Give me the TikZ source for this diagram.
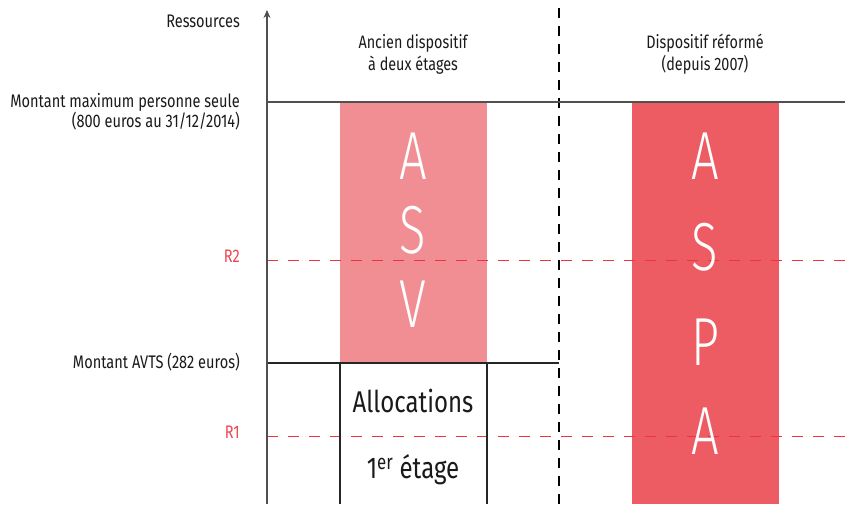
\documentclass[tikz,border=0pt]{standalone}
\usepackage{fontspec}
\setmainfont{Fira Sans}[FakeStretch=0.8]
\newfontfamily\thinfont{Fira Sans Light}[FakeStretch=0.72]
\usetikzlibrary{arrows.meta}
\definecolor{asvc}{HTML}{F08E93}
\definecolor{aspac}{HTML}{EC5C62}
\definecolor{redline}{HTML}{EE3340}
\definecolor{redlab}{HTML}{EE4552}
\definecolor{axisc}{HTML}{505050}
\definecolor{txt}{HTML}{1A1A1A}
\tikzset{
  lab/.style={font=\fontsize{18.2}{20}\selectfont, text=txt, inner sep=0pt, align=right},
  head/.style={font=\fontsize{18}{22}\selectfont, text=txt, inner sep=0pt, align=center},
  rlab/.style={font=\fontsize{18.2}{20}\selectfont, text=redlab, inner sep=0pt},
  big/.style={font=\thinfont\fontsize{68}{68}\selectfont, text=white, inner sep=0pt},
  alloc/.style={font=\fontsize{30}{32}\selectfont, text=txt, inner sep=0pt},
  colbox/.style={draw=none, inner sep=0pt, anchor=north west},
  rdash/.style={draw=redline, line width=1pt, dash pattern=on 11pt off 10pt},
  kdash/.style={draw=black, line width=1.6pt, dash pattern=on 10pt off 8pt},
  axisline/.style={draw=axisc, line width=1.8pt},
  thin/.style={draw=black!85, line width=1.2pt}
}
\begin{document}
\begin{tikzpicture}[x=1pt,y=-1pt]
\useasboundingbox (0,0) rectangle (845,504);
% coordinates
\coordinate (o) at (267,504);
\coordinate (top) at (267,10);
\coordinate (tl) at (267,102);
\coordinate (tr) at (845,102);
\coordinate (r2l) at (267,260);
\coordinate (r2r) at (845,260);
\coordinate (r1l) at (267,436);
\coordinate (r1r) at (845,436);
\coordinate (dt) at (559,8);
\coordinate (db) at (559,504);
\coordinate (ml) at (267,363);
\coordinate (mr) at (559,363);
\coordinate (a1t) at (340,363);
\coordinate (a1b) at (340,504);
\coordinate (a2t) at (487,363);
\coordinate (a2b) at (487,504);
% boxes
\node[colbox, fill=asvc, minimum width=147pt, minimum height=261pt] (asv) at (340,102) {};
\node[colbox, fill=aspac, minimum width=147pt, minimum height=402pt] (aspa) at (632,102) {};
% red dashed levels
\draw[rdash] (r2l) -- (r2r);
\draw[rdash] (r1l) -- (r1r);
% vertical separator
\draw[kdash] (dt) -- (db);
% lines
\draw[thin] (ml) -- (mr);
\draw[thin] (a1t) -- (a1b);
\draw[thin] (a2t) -- (a2b);
\draw[axisline] (tl) -- (tr);
\draw[axisline, -{Stealth[length=8pt,width=7pt]}] (o) -- (top);
% letters
\node[big] (l1) at (413,156) {A};
\node[big] (l2) at (413,230) {S};
\node[big] (l3) at (413,304) {V};
\node[big] (p1) at (705,156) {A};
\node[big] (p2) at (705,247) {S};
\node[big] (p3) at (705,342) {P};
\node[big] (p4) at (705,431) {A};
% allocation text
\node[alloc] (al) at (413,401) {Allocations};
\node[alloc] (et) at (413,470) {1\textsuperscript{er} étage};
% headers
\node[head] (h1) at (413,54) {Ancien dispositif\\à deux étages};
\node[head] (h2) at (705,54) {Dispositif réformé\\(depuis 2007)};
% left labels
\node[lab, anchor=east] (res) at (240,21) {Ressources};
\node[lab, anchor=east] (mmax) at (240,112) {Montant maximum personne seule\\(800 euros au 31/12/2014)};
\node[lab, anchor=east] (avts) at (240,362) {Montant AVTS (282 euros)};
\node[rlab, anchor=east] (r2) at (240,256) {R2};
\node[rlab, anchor=east] (r1) at (240,432) {R1};
\end{tikzpicture}
\end{document}
